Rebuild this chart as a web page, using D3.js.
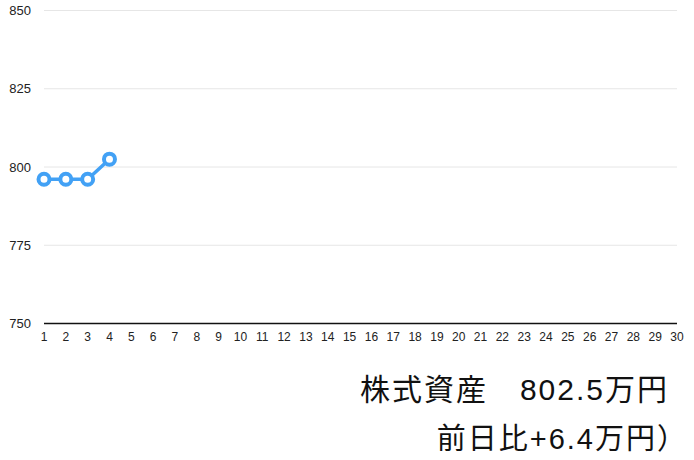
<!DOCTYPE html>
<html><head><meta charset="utf-8">
<script src="https://cdn.jsdelivr.net/npm/d3@7"></script>
<style>
html,body{margin:0;padding:0;background:#fff;}
svg{display:block;}
</style></head>
<body>
<script>
const days = d3.range(1, 31);
const values = [796.1, 796.1, 796.1, 802.5];
const yTicks = [750, 775, 800, 825, 850];
const titleLine1 = "株式資産　802.5万円";
const titleLine2 = "前日比+6.4万円）";

const W = 694, H = 460;
const svg = d3.select("body").append("svg").attr("width", W).attr("height", H);
const font = "'Liberation Sans', 'Noto Sans CJK JP', sans-serif";

const x = d3.scaleLinear().domain([1, 30]).range([44, 677]);
const y = d3.scaleLinear().domain([750, 850]).range([323.5, 10.5]);

// grid
svg.append("g").selectAll("line").data(yTicks.slice(1)).join("line")
  .attr("x1", 44).attr("x2", 677)
  .attr("y1", d => y(d)).attr("y2", d => y(d))
  .attr("stroke", "#e6e6e6").attr("stroke-width", 1);

// y labels
svg.append("g").selectAll("text").data(yTicks).join("text")
  .attr("x", 31).attr("y", d => y(d)).attr("dy", "0.35em")
  .attr("text-anchor", "end").attr("font-family", font).attr("font-size", 13)
  .attr("fill", "#222").text(d => d);

// x axis line
svg.append("line").attr("x1", 44).attr("x2", 677).attr("y1", y(750)).attr("y2", y(750))
  .attr("stroke", "#111").attr("stroke-width", 1.5);

// x labels
svg.append("g").selectAll("text").data(days).join("text")
  .attr("x", d => x(d)).attr("y", 341)
  .attr("text-anchor", "middle").attr("font-family", font).attr("font-size", 12)
  .attr("fill", "#222").text(d => d);

// line
const pts = values.map((v, i) => [days[i], v]);
svg.append("path").datum(pts)
  .attr("d", d3.line().x(d => x(d[0])).y(d => y(d[1])))
  .attr("fill", "none").attr("stroke", "#42a1f5").attr("stroke-width", 3.5);
svg.append("g").selectAll("circle").data(pts).join("circle")
  .attr("cx", d => x(d[0])).attr("cy", d => y(d[1])).attr("r", 5.5)
  .attr("fill", "#fff").attr("stroke", "#42a1f5").attr("stroke-width", 4);

// bottom texts
svg.append("text").attr("x", 669).attr("y", 400).attr("text-anchor", "end")
  .attr("font-family", font).attr("font-size", 30).attr("letter-spacing", 2)
  .attr("fill", "#111").text(titleLine1);
svg.append("text").attr("x", 688).attr("y", 449).attr("text-anchor", "end")
  .attr("font-family", font).attr("font-size", 29).attr("letter-spacing", 2)
  .attr("fill", "#111").text(titleLine2);
</script>
</body></html>
